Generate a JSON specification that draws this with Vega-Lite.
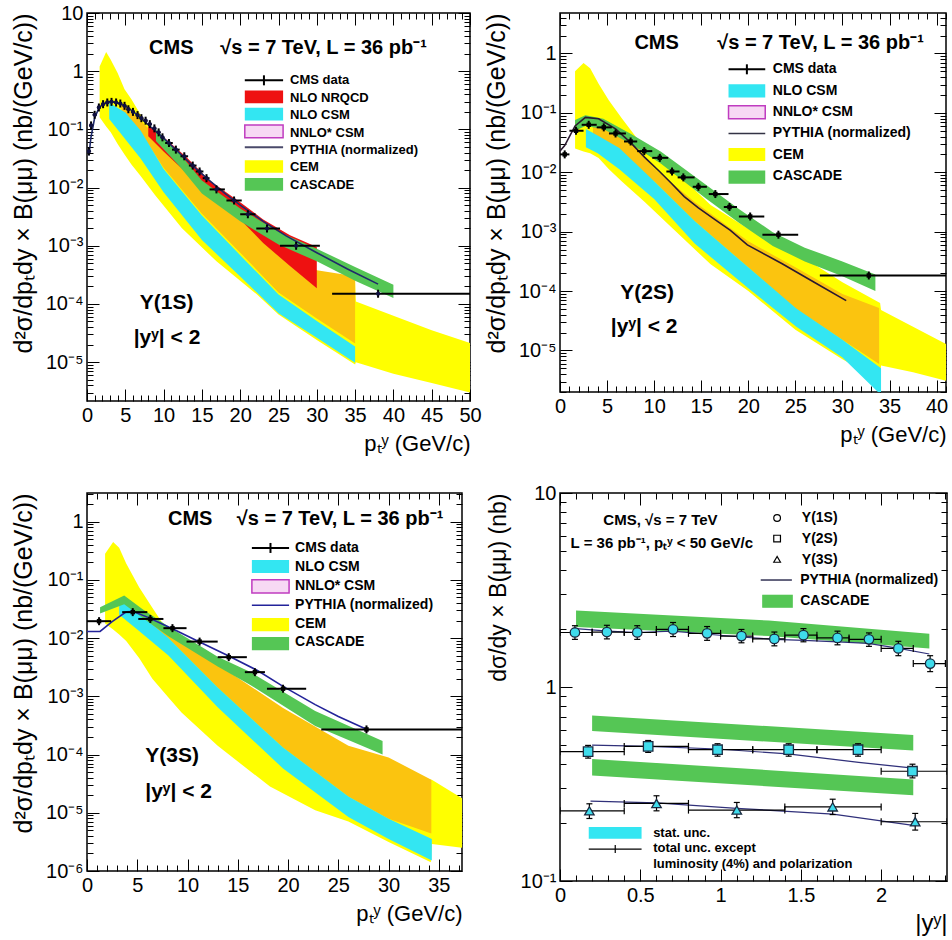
{
"$schema":"https://vega.github.io/schema/vega-lite/v6.json",
"background":"white",
"padding":{"left":10,"top":2,"right":0,"bottom":0},
"columns":2,
"bounds":"flush",
"spacing":{"row":92,"column":90},
"config":{
 "font":"Liberation Sans",
 "view":{"stroke":"#000000","strokeWidth":1.5},
 "axis":{"grid":false,"domain":false,"tickColor":"#000000","tickWidth":1,"labelColor":"#000000","titleColor":"#000000","labelFont":"Liberation Sans","titleFont":"Liberation Sans","titleFontWeight":"normal","labelFontWeight":"normal"},
 "text":{"font":"Liberation Sans","fontWeight":"bold","color":"#000000"}
},
"datasets":{
"bands":[
{"p":1,"s":"CEM","x":1.65,"lo":0.162,"hi":1.2},{"p":1,"s":"CEM","x":2.5,"lo":0.112,"hi":2.14},{"p":1,"s":"CEM","x":3.1,"lo":0.089,"hi":1.58},{"p":1,"s":"CEM","x":4.0,"lo":0.056,"hi":0.93},{"p":1,"s":"CEM","x":4.9,"lo":0.037,"hi":0.49},{"p":1,"s":"CEM","x":5.8,"lo":0.025,"hi":0.33},{"p":1,"s":"CEM","x":7,"lo":0.0158,"hi":0.178},{"p":1,"s":"CEM","x":8.9,"lo":0.0074,"hi":0.0794},{"p":1,"s":"CEM","x":12.4,"lo":0.002,"hi":0.0251},{"p":1,"s":"CEM","x":16.9,"lo":5.4e-4,"hi":0.0063},{"p":1,"s":"CEM","x":22.2,"lo":1.45e-4,"hi":0.00158},{"p":1,"s":"CEM","x":25,"lo":6.6e-5,"hi":8.9e-4},{"p":1,"s":"CEM","x":30,"lo":2.4e-5,"hi":3.55e-4},{"p":1,"s":"CEM","x":35,"lo":9.1e-6,"hi":2.5e-4},{"p":1,"s":"CEM","x":35.1,"lo":1.0e-5,"hi":1.1e-4},{"p":1,"s":"CEM","x":40,"lo":6.3e-6,"hi":6.3e-5},{"p":1,"s":"CEM","x":45,"lo":4.4e-6,"hi":3.55e-5},{"p":1,"s":"CEM","x":50,"lo":3.0e-6,"hi":2.14e-5},
{"p":1,"s":"NNLO","x":4.5,"lo":0.178,"hi":0.263},{"p":1,"s":"NNLO","x":6,"lo":0.1,"hi":0.19},{"p":1,"s":"NNLO","x":8,"lo":0.056,"hi":0.105},{"p":1,"s":"NNLO","x":10,"lo":0.0219,"hi":0.063},{"p":1,"s":"NNLO","x":15,"lo":0.00355,"hi":0.0141},{"p":1,"s":"NNLO","x":20,"lo":7.6e-4,"hi":0.00355},{"p":1,"s":"NNLO","x":25,"lo":1.58e-4,"hi":0.00112},{"p":1,"s":"NNLO","x":30,"lo":5.6e-5,"hi":3.8e-4},{"p":1,"s":"NNLO","x":35,"lo":2.1e-5,"hi":3.0e-4},
{"p":1,"s":"CSM","x":2.9,"lo":0.151,"hi":0.288},{"p":1,"s":"CSM","x":5,"lo":0.0676,"hi":0.195},{"p":1,"s":"CSM","x":7,"lo":0.0316,"hi":0.0955},{"p":1,"s":"CSM","x":10,"lo":0.0083,"hi":0.0209},{"p":1,"s":"CSM","x":15,"lo":0.00126,"hi":0.00331},{"p":1,"s":"CSM","x":20,"lo":2.95e-4,"hi":6.9e-4},{"p":1,"s":"CSM","x":25,"lo":6.9e-5,"hi":1.45e-4},{"p":1,"s":"CSM","x":30,"lo":2.63e-5,"hi":5.1e-5},{"p":1,"s":"CSM","x":35,"lo":9.8e-6,"hi":1.86e-5},
{"p":1,"s":"NRQCD","x":8,"lo":0.0759,"hi":0.117},{"p":1,"s":"NRQCD","x":10,"lo":0.0417,"hi":0.0741},{"p":1,"s":"NRQCD","x":13,"lo":0.0178,"hi":0.0331},{"p":1,"s":"NRQCD","x":16,"lo":0.00776,"hi":0.0132},{"p":1,"s":"NRQCD","x":20,"lo":0.00282,"hi":0.00562},{"p":1,"s":"NRQCD","x":23,"lo":0.00112,"hi":0.00282},{"p":1,"s":"NRQCD","x":26.5,"lo":4.47e-4,"hi":0.00151},{"p":1,"s":"NRQCD","x":30,"lo":1.86e-4,"hi":9.5e-4},
{"p":1,"s":"CASCADE","x":9,"lo":0.0631,"hi":0.1},{"p":1,"s":"CASCADE","x":12,"lo":0.024,"hi":0.0398},{"p":1,"s":"CASCADE","x":15,"lo":0.00794,"hi":0.0132},{"p":1,"s":"CASCADE","x":20,"lo":0.00263,"hi":0.00437},{"p":1,"s":"CASCADE","x":25,"lo":0.00105,"hi":0.00174},{"p":1,"s":"CASCADE","x":30,"lo":5.4e-4,"hi":8.9e-4},{"p":1,"s":"CASCADE","x":35,"lo":2.5e-4,"hi":4.3e-4},{"p":1,"s":"CASCADE","x":40,"lo":1.26e-4,"hi":2.14e-4},
{"p":2,"s":"CEM","x":1.6,"lo":0.0251,"hi":0.501},{"p":2,"s":"CEM","x":2.5,"lo":0.0224,"hi":0.69},{"p":2,"s":"CEM","x":3.2,"lo":0.0209,"hi":0.562},{"p":2,"s":"CEM","x":4.1,"lo":0.0174,"hi":0.309},{"p":2,"s":"CEM","x":5.2,"lo":0.0112,"hi":0.162},{"p":2,"s":"CEM","x":6.6,"lo":0.00692,"hi":0.0794},{"p":2,"s":"CEM","x":9,"lo":0.00316,"hi":0.0251},{"p":2,"s":"CEM","x":12,"lo":0.00112,"hi":0.0112},{"p":2,"s":"CEM","x":16,"lo":2.82e-4,"hi":0.00282},{"p":2,"s":"CEM","x":20,"lo":1e-4,"hi":0.00112},{"p":2,"s":"CEM","x":25,"lo":2.24e-5,"hi":4.47e-4},{"p":2,"s":"CEM","x":30,"lo":7.1e-6,"hi":1.41e-4},{"p":2,"s":"CEM","x":34,"lo":3.16e-6,"hi":6.3e-5},{"p":2,"s":"CEM","x":34.1,"lo":5.6e-6,"hi":4.8e-5},{"p":2,"s":"CEM","x":37.5,"lo":4.3e-6,"hi":2.5e-5},{"p":2,"s":"CEM","x":41,"lo":3.1e-6,"hi":1.29e-5},
{"p":2,"s":"NNLO","x":3.5,"lo":0.0398,"hi":0.0759},{"p":2,"s":"NNLO","x":5,"lo":0.0251,"hi":0.0631},{"p":2,"s":"NNLO","x":7.2,"lo":0.0126,"hi":0.038},{"p":2,"s":"NNLO","x":10,"lo":0.00708,"hi":0.0117},{"p":2,"s":"NNLO","x":14.3,"lo":0.00151,"hi":0.00316},{"p":2,"s":"NNLO","x":20,"lo":2.51e-4,"hi":6.9e-4},{"p":2,"s":"NNLO","x":25,"lo":5.1e-5,"hi":2.51e-4},{"p":2,"s":"NNLO","x":30,"lo":1.51e-5,"hi":8.9e-5},{"p":2,"s":"NNLO","x":33.9,"lo":5.9e-6,"hi":5.2e-5},
{"p":2,"s":"CSM","x":2.75,"lo":0.0263,"hi":0.0537},{"p":2,"s":"CSM","x":4,"lo":0.0209,"hi":0.0417},{"p":2,"s":"CSM","x":6.3,"lo":0.0112,"hi":0.0257},{"p":2,"s":"CSM","x":10,"lo":0.00355,"hi":0.00708},{"p":2,"s":"CSM","x":14.3,"lo":6.3e-4,"hi":0.00151},{"p":2,"s":"CSM","x":20,"lo":1.12e-4,"hi":2.51e-4},{"p":2,"s":"CSM","x":25.1,"lo":2.51e-5,"hi":5.1e-5},{"p":2,"s":"CSM","x":30,"lo":7.6e-6,"hi":1.51e-5},{"p":2,"s":"CSM","x":34.1,"lo":1.78e-6,"hi":5.0e-6},
{"p":2,"s":"CASCADE","x":1.6,"lo":0.0501,"hi":0.0759},{"p":2,"s":"CASCADE","x":2.7,"lo":0.0603,"hi":0.0912},{"p":2,"s":"CASCADE","x":4.6,"lo":0.0537,"hi":0.0794},{"p":2,"s":"CASCADE","x":7.5,"lo":0.0302,"hi":0.0447},{"p":2,"s":"CASCADE","x":10.7,"lo":0.0141,"hi":0.0224},{"p":2,"s":"CASCADE","x":15.5,"lo":0.00363,"hi":0.00617},{"p":2,"s":"CASCADE","x":19,"lo":0.00141,"hi":0.0024},{"p":2,"s":"CASCADE","x":22.6,"lo":5.75e-4,"hi":9.8e-4},{"p":2,"s":"CASCADE","x":26,"lo":3.16e-4,"hi":5.37e-4},{"p":2,"s":"CASCADE","x":30,"lo":1.78e-4,"hi":3.16e-4},{"p":2,"s":"CASCADE","x":33.5,"lo":1.0e-4,"hi":1.9e-4},
{"p":3,"s":"CEM","x":1.8,"lo":0.0178,"hi":0.282},{"p":3,"s":"CEM","x":2.6,"lo":0.0141,"hi":0.447},{"p":3,"s":"CEM","x":3.2,"lo":0.0115,"hi":0.355},{"p":3,"s":"CEM","x":3.9,"lo":0.0089,"hi":0.19},{"p":3,"s":"CEM","x":5.2,"lo":0.0045,"hi":0.0741},{"p":3,"s":"CEM","x":6.5,"lo":0.002,"hi":0.0331},{"p":3,"s":"CEM","x":8.1,"lo":9.5e-4,"hi":0.0126},{"p":3,"s":"CEM","x":9.4,"lo":5.25e-4,"hi":0.0085},{"p":3,"s":"CEM","x":13,"lo":1.41e-4,"hi":0.00282},{"p":3,"s":"CEM","x":18.2,"lo":2.82e-5,"hi":6.3e-4},{"p":3,"s":"CEM","x":22.7,"lo":1.1e-5,"hi":2.24e-4},{"p":3,"s":"CEM","x":26,"lo":7.1e-6,"hi":1.12e-4},{"p":3,"s":"CEM","x":30,"lo":3.16e-6,"hi":6.3e-5},{"p":3,"s":"CEM","x":34.2,"lo":1.41e-6,"hi":3.7e-5},{"p":3,"s":"CEM","x":34.3,"lo":2.9e-6,"hi":3.7e-5},{"p":3,"s":"CEM","x":37.3,"lo":2.5e-6,"hi":1.78e-5},
{"p":3,"s":"NNLO","x":4.2,"lo":0.0316,"hi":0.0398},{"p":3,"s":"NNLO","x":6,"lo":0.0166,"hi":0.0251},{"p":3,"s":"NNLO","x":8.1,"lo":0.01,"hi":0.0126},{"p":3,"s":"NNLO","x":13,"lo":0.00141,"hi":0.00355},{"p":3,"s":"NNLO","x":19.5,"lo":1.32e-4,"hi":6.3e-4},{"p":3,"s":"NNLO","x":26,"lo":1.91e-5,"hi":1.41e-4},{"p":3,"s":"NNLO","x":30,"lo":7.9e-6,"hi":8.9e-5},{"p":3,"s":"NNLO","x":34.25,"lo":4.4e-6,"hi":3.7e-5},
{"p":3,"s":"CSM","x":3.2,"lo":0.0251,"hi":0.0468},{"p":3,"s":"CSM","x":5,"lo":0.0141,"hi":0.0282},{"p":3,"s":"CSM","x":8.1,"lo":0.00501,"hi":0.01},{"p":3,"s":"CSM","x":13,"lo":6.5e-4,"hi":0.00141},{"p":3,"s":"CSM","x":19.5,"lo":5.75e-5,"hi":1.32e-4},{"p":3,"s":"CSM","x":26,"lo":8.5e-6,"hi":1.91e-5},{"p":3,"s":"CSM","x":30,"lo":3.55e-6,"hi":7.9e-6},{"p":3,"s":"CSM","x":34.3,"lo":1.51e-6,"hi":3.55e-6},
{"p":3,"s":"CASCADE","x":1.3,"lo":0.0263,"hi":0.0339},{"p":3,"s":"CASCADE","x":3.7,"lo":0.038,"hi":0.0537},{"p":3,"s":"CASCADE","x":5.5,"lo":0.0224,"hi":0.0316},{"p":3,"s":"CASCADE","x":8.1,"lo":0.0107,"hi":0.0158},{"p":3,"s":"CASCADE","x":13,"lo":0.00324,"hi":0.00479},{"p":3,"s":"CASCADE","x":16.2,"lo":0.00158,"hi":0.00263},{"p":3,"s":"CASCADE","x":22.7,"lo":3.1e-4,"hi":5.6e-4},{"p":3,"s":"CASCADE","x":29.4,"lo":1e-4,"hi":1.7e-4},
{"p":4,"s":"1S","x":0.1,"lo":2.04,"hi":2.48},{"p":4,"s":"1S","x":1.3,"lo":1.83,"hi":2.2},{"p":4,"s":"1S","x":2.3,"lo":1.58,"hi":1.88},
{"p":4,"s":"2S","x":0.2,"lo":0.594,"hi":0.714},{"p":4,"s":"2S","x":2.2,"lo":0.47,"hi":0.565},
{"p":4,"s":"3S","x":0.2,"lo":0.35,"hi":0.426},{"p":4,"s":"3S","x":2.2,"lo":0.277,"hi":0.334}
],
"lines":[
{"p":1,"s":"PY","x":0.25,"v":0.0355},{"p":1,"s":"PY","x":0.5,"v":0.0708},{"p":1,"s":"PY","x":1.0,"v":0.158},{"p":1,"s":"PY","x":1.5,"v":0.224},{"p":1,"s":"PY","x":2,"v":0.269},{"p":1,"s":"PY","x":3,"v":0.302},{"p":1,"s":"PY","x":4,"v":0.288},{"p":1,"s":"PY","x":5,"v":0.251},{"p":1,"s":"PY","x":6,"v":0.204},{"p":1,"s":"PY","x":7,"v":0.158},{"p":1,"s":"PY","x":8,"v":0.12},{"p":1,"s":"PY","x":10,"v":0.0708},{"p":1,"s":"PY","x":12,"v":0.0398},{"p":1,"s":"PY","x":14,"v":0.0224},{"p":1,"s":"PY","x":16,"v":0.0132},{"p":1,"s":"PY","x":18,"v":0.00794},{"p":1,"s":"PY","x":20,"v":0.00501},{"p":1,"s":"PY","x":23,"v":0.00263},{"p":1,"s":"PY","x":26,"v":0.00148},{"p":1,"s":"PY","x":30,"v":7.6e-4},{"p":1,"s":"PY","x":34,"v":3.98e-4},{"p":1,"s":"PY","x":38,"v":2.19e-4},
{"p":2,"s":"PY","x":0,"v":0.0229},{"p":2,"s":"PY","x":0.5,"v":0.0282},{"p":2,"s":"PY","x":1.6,"v":0.0603},{"p":2,"s":"PY","x":2.7,"v":0.0841},{"p":2,"s":"PY","x":4.1,"v":0.0794},{"p":2,"s":"PY","x":5.9,"v":0.0537},{"p":2,"s":"PY","x":7.5,"v":0.0316},{"p":2,"s":"PY","x":9,"v":0.0178},{"p":2,"s":"PY","x":10.6,"v":0.0102},{"p":2,"s":"PY","x":11.8,"v":0.0066},{"p":2,"s":"PY","x":13.2,"v":0.0039},{"p":2,"s":"PY","x":14.7,"v":0.00251},{"p":2,"s":"PY","x":16.5,"v":0.00158},{"p":2,"s":"PY","x":18.1,"v":0.00105},{"p":2,"s":"PY","x":19.9,"v":6.0e-4},{"p":2,"s":"PY","x":23.6,"v":2.88e-4},{"p":2,"s":"PY","x":27,"v":1.41e-4},{"p":2,"s":"PY","x":30.4,"v":6.9e-5},
{"p":3,"s":"PY","x":0,"v":0.013},{"p":3,"s":"PY","x":1.3,"v":0.013},{"p":3,"s":"PY","x":2.5,"v":0.0191},{"p":3,"s":"PY","x":3.9,"v":0.0282},{"p":3,"s":"PY","x":4.6,"v":0.0285},{"p":3,"s":"PY","x":6,"v":0.0229},{"p":3,"s":"PY","x":8.5,"v":0.0145},{"p":3,"s":"PY","x":11,"v":0.0089},{"p":3,"s":"PY","x":14,"v":0.00501},{"p":3,"s":"PY","x":17,"v":0.00275},{"p":3,"s":"PY","x":19.5,"v":0.00148},{"p":3,"s":"PY","x":22.7,"v":7.2e-4},{"p":3,"s":"PY","x":25,"v":4.5e-4},{"p":3,"s":"PY","x":27.8,"v":2.72e-4},
{"p":4,"s":"1S","x":0.1,"v":2.0},{"p":4,"s":"1S","x":0.3,"v":1.94},{"p":4,"s":"1S","x":0.48,"v":1.91},{"p":4,"s":"1S","x":0.7,"v":1.94},{"p":4,"s":"1S","x":0.92,"v":1.87},{"p":4,"s":"1S","x":1.13,"v":1.81},{"p":4,"s":"1S","x":1.33,"v":1.76},{"p":4,"s":"1S","x":1.52,"v":1.74},{"p":4,"s":"1S","x":1.73,"v":1.71},{"p":4,"s":"1S","x":1.92,"v":1.68},{"p":4,"s":"1S","x":2.11,"v":1.58},{"p":4,"s":"1S","x":2.3,"v":1.48},
{"p":4,"s":"2S","x":0.2,"v":0.502},{"p":4,"s":"2S","x":0.55,"v":0.494},{"p":4,"s":"2S","x":0.98,"v":0.479},{"p":4,"s":"2S","x":1.42,"v":0.452},{"p":4,"s":"2S","x":1.86,"v":0.409},{"p":4,"s":"2S","x":2.2,"v":0.382},
{"p":4,"s":"3S","x":0.19,"v":0.258},{"p":4,"s":"3S","x":0.6,"v":0.253},{"p":4,"s":"3S","x":1.1,"v":0.237},{"p":4,"s":"3S","x":1.7,"v":0.221},{"p":4,"s":"3S","x":2.21,"v":0.193}
],
"pts":[
{"p":1,"x":0.25,"v":0.042,"xlo":0,"xhi":0.5},{"p":1,"x":0.53,"v":0.117,"xlo":0.3,"xhi":0.8},{"p":1,"x":1.0,"v":0.178,"xlo":0.75,"xhi":1.25},{"p":1,"x":1.55,"v":0.238,"xlo":1.3,"xhi":1.8},{"p":1,"x":2.1,"v":0.271,"xlo":1.85,"xhi":2.35},{"p":1,"x":2.65,"v":0.29,"xlo":2.4,"xhi":2.9},{"p":1,"x":3.2,"v":0.297,"xlo":2.95,"xhi":3.45},{"p":1,"x":3.8,"v":0.29,"xlo":3.55,"xhi":4.05},{"p":1,"x":4.35,"v":0.278,"xlo":4.1,"xhi":4.6},{"p":1,"x":4.9,"v":0.254,"xlo":4.65,"xhi":5.15},{"p":1,"x":5.4,"v":0.222,"xlo":5.15,"xhi":5.65},{"p":1,"x":6.0,"v":0.2,"xlo":5.75,"xhi":6.25},{"p":1,"x":6.6,"v":0.176,"xlo":6.35,"xhi":6.85},{"p":1,"x":7.1,"v":0.156,"xlo":6.85,"xhi":7.35},{"p":1,"x":7.65,"v":0.141,"xlo":7.4,"xhi":7.9},{"p":1,"x":8.2,"v":0.123,"xlo":7.95,"xhi":8.45},{"p":1,"x":8.8,"v":0.104,"xlo":8.55,"xhi":9.05},{"p":1,"x":9.35,"v":0.0889,"xlo":9.1,"xhi":9.6},{"p":1,"x":9.85,"v":0.073,"xlo":9.6,"xhi":10.1},{"p":1,"x":10.7,"v":0.0583,"xlo":10.2,"xhi":11.2},{"p":1,"x":11.6,"v":0.0449,"xlo":11.1,"xhi":12.1},{"p":1,"x":12.7,"v":0.0345,"xlo":12.2,"xhi":13.2},{"p":1,"x":13.8,"v":0.0239,"xlo":13.3,"xhi":14.3},{"p":1,"x":14.7,"v":0.0189,"xlo":14.2,"xhi":15.2},{"p":1,"x":15.6,"v":0.0145,"xlo":15.1,"xhi":16},{"p":1,"x":16.9,"v":0.0093,"xlo":16,"xhi":18},{"p":1,"x":19.2,"v":0.006,"xlo":18.2,"xhi":20.2},{"p":1,"x":21,"v":0.00348,"xlo":20,"xhi":22},{"p":1,"x":23.5,"v":0.00198,"xlo":22.1,"xhi":25.2},{"p":1,"x":27.3,"v":0.001,"xlo":25.2,"xhi":30.4},{"p":1,"x":38,"v":0.00015,"xlo":32,"xhi":50},
{"p":2,"x":0.5,"v":0.02,"xlo":0,"xhi":1},{"p":2,"x":1.7,"v":0.05,"xlo":1,"xhi":2.5},{"p":2,"x":3.05,"v":0.063,"xlo":2.3,"xhi":3.9},{"p":2,"x":4.65,"v":0.057,"xlo":3.9,"xhi":5.5},{"p":2,"x":5.9,"v":0.045,"xlo":5.2,"xhi":7},{"p":2,"x":7.5,"v":0.033,"xlo":6.8,"xhi":8.2},{"p":2,"x":8.95,"v":0.0227,"xlo":8.2,"xhi":9.8},{"p":2,"x":10.6,"v":0.0175,"xlo":9.8,"xhi":11.5},{"p":2,"x":11.9,"v":0.0103,"xlo":11.3,"xhi":12.7},{"p":2,"x":13.1,"v":0.0082,"xlo":12.5,"xhi":14.3},{"p":2,"x":14.7,"v":0.0057,"xlo":14.1,"xhi":15.6},{"p":2,"x":16.5,"v":0.0043,"xlo":15.8,"xhi":17.9},{"p":2,"x":18,"v":0.0026,"xlo":17.4,"xhi":18.8},{"p":2,"x":20.2,"v":0.0018,"xlo":19,"xhi":21.7},{"p":2,"x":23.2,"v":0.00089,"xlo":21.5,"xhi":25.3},{"p":2,"x":32.8,"v":0.000183,"xlo":27.6,"xhi":50},
{"p":3,"x":1.2,"v":0.0195,"xlo":0,"xhi":2.4},{"p":3,"x":4.55,"v":0.0279,"xlo":3.5,"xhi":6},{"p":3,"x":6.3,"v":0.0213,"xlo":5.1,"xhi":7.6},{"p":3,"x":8.5,"v":0.0148,"xlo":7.6,"xhi":9.9},{"p":3,"x":11.2,"v":0.0087,"xlo":9.9,"xhi":13},{"p":3,"x":14.1,"v":0.0047,"xlo":13,"xhi":15.9},{"p":3,"x":16.7,"v":0.0026,"xlo":15.7,"xhi":17.7},{"p":3,"x":19.5,"v":0.00135,"xlo":17.9,"xhi":21.8},{"p":3,"x":27.8,"v":0.00027,"xlo":23.3,"xhi":50},
{"p":4,"s":"1S","x":0.093,"v":1.91,"xlo":0,"xhi":0.2,"vlo":1.76,"vhi":2.07},{"p":4,"s":"1S","x":0.292,"v":1.92,"xlo":0.2,"xhi":0.4,"vlo":1.77,"vhi":2.08},{"p":4,"s":"1S","x":0.481,"v":1.91,"xlo":0.4,"xhi":0.6,"vlo":1.76,"vhi":2.07},{"p":4,"s":"1S","x":0.704,"v":1.98,"xlo":0.6,"xhi":0.8,"vlo":1.82,"vhi":2.15},{"p":4,"s":"1S","x":0.916,"v":1.89,"xlo":0.8,"xhi":1.0,"vlo":1.74,"vhi":2.05},{"p":4,"s":"1S","x":1.13,"v":1.83,"xlo":1.0,"xhi":1.2,"vlo":1.69,"vhi":1.98},{"p":4,"s":"1S","x":1.335,"v":1.77,"xlo":1.2,"xhi":1.4,"vlo":1.63,"vhi":1.92},{"p":4,"s":"1S","x":1.516,"v":1.85,"xlo":1.4,"xhi":1.6,"vlo":1.71,"vhi":2.0},{"p":4,"s":"1S","x":1.728,"v":1.79,"xlo":1.6,"xhi":1.8,"vlo":1.65,"vhi":1.94},{"p":4,"s":"1S","x":1.924,"v":1.76,"xlo":1.8,"xhi":2.0,"vlo":1.62,"vhi":1.9},{"p":4,"s":"1S","x":2.107,"v":1.58,"xlo":2.0,"xhi":2.2,"vlo":1.45,"vhi":1.72},{"p":4,"s":"1S","x":2.305,"v":1.32,"xlo":2.2,"xhi":2.4,"vlo":1.2,"vhi":1.45},
{"p":4,"s":"2S","x":0.175,"v":0.464,"xlo":0,"xhi":0.4,"vlo":0.43,"vhi":0.5},{"p":4,"s":"2S","x":0.549,"v":0.494,"xlo":0.4,"xhi":0.8,"vlo":0.46,"vhi":0.53},{"p":4,"s":"2S","x":0.981,"v":0.475,"xlo":0.8,"xhi":1.2,"vlo":0.44,"vhi":0.51},{"p":4,"s":"2S","x":1.424,"v":0.475,"xlo":1.2,"xhi":1.6,"vlo":0.44,"vhi":0.51},{"p":4,"s":"2S","x":1.856,"v":0.475,"xlo":1.6,"xhi":2.0,"vlo":0.44,"vhi":0.51},{"p":4,"s":"2S","x":2.195,"v":0.368,"xlo":2.0,"xhi":2.41,"vlo":0.34,"vhi":0.4},
{"p":4,"s":"3S","x":0.183,"v":0.23,"xlo":0,"xhi":0.4,"vlo":0.21,"vhi":0.25},{"p":4,"s":"3S","x":0.601,"v":0.251,"xlo":0.4,"xhi":0.8,"vlo":0.23,"vhi":0.275},{"p":4,"s":"3S","x":1.101,"v":0.232,"xlo":0.8,"xhi":1.4,"vlo":0.212,"vhi":0.254},{"p":4,"s":"3S","x":1.698,"v":0.241,"xlo":1.4,"xhi":2.0,"vlo":0.22,"vhi":0.264},{"p":4,"s":"3S","x":2.212,"v":0.202,"xlo":2.0,"xhi":2.41,"vlo":0.183,"vhi":0.223}
]
},
"concat":[
{
"width":383,"height":388,
"resolve":{"axis":{"x":"independent","y":"independent"}},
"layer":[
{"data":{"name":"bands"},"transform":[{"filter":"datum.p==1 && datum.s=='CEM'"}],"mark":{"type":"area","color":"#ffff00","opacity":1,"clip":true},
 "encoding":{
  "x":{"field":"x","type":"quantitative","scale":{"domain":[0,50],"nice":false,"zero":false},
   "axis":{"orient":"bottom","tickCount":50,"tickSize":{"condition":{"test":"datum.value % 5 === 0","value":-12},"value":-6},"labelExpr":"datum.value % 5 === 0 ? datum.label : ''","labelFontSize":20,"labelPadding":16,"labelOverlap":false,"labelFlush":false,"labelBound":false,"title":"pₜʸ (GeV/c)","titleFontSize":22,"titleAnchor":"end","titlePadding":2}},
  "y":{"field":"lo","type":"quantitative","scale":{"type":"log","domain":[2.15e-6,10],"nice":false},
   "axis":{"orient":"left","tickCount":20,"tickSize":{"condition":{"test":"abs(log(datum.value)/LN10 - round(log(datum.value)/LN10)) < 0.001","value":-12},"value":-6},"labelExpr":"abs(log(datum.value)/LN10 - round(log(datum.value)/LN10)) < 0.001 ? (datum.value > 5 ? '10' : datum.value > 0.5 ? '1' : '10' + ['','⁻¹','⁻²','⁻³','⁻⁴','⁻⁵','⁻⁶'][round(-log(datum.value)/LN10)]) : ''","labelFontSize":20,"labelPadding":16,"labelOverlap":false,"labelFlush":false,"labelBound":false,"title":"d²σ/dpₜdy × B(μμ)   (nb/(GeV/c))","titleFontSize":25,"titleAnchor":"end","titlePadding":9}},
  "y2":{"field":"hi"}}},
{"data":{"name":"bands"},"transform":[{"filter":"datum.p==1 && datum.s=='NNLO'"}],"mark":{"type":"area","color":"#fbc40f","opacity":1,"clip":true},"encoding":{"x":{"field":"x","type":"quantitative","axis":null},"y":{"field":"lo","type":"quantitative","axis":null},"y2":{"field":"hi"}}},
{"data":{"name":"bands"},"transform":[{"filter":"datum.p==1 && datum.s=='CSM'"}],"mark":{"type":"area","color":"#33e6f2","opacity":1,"clip":true},"encoding":{"x":{"field":"x","type":"quantitative","axis":null},"y":{"field":"lo","type":"quantitative","axis":null},"y2":{"field":"hi"}}},
{"data":{"name":"bands"},"transform":[{"filter":"datum.p==1 && datum.s=='NRQCD'"}],"mark":{"type":"area","color":"#ee1111","opacity":1,"clip":true},"encoding":{"x":{"field":"x","type":"quantitative","axis":null},"y":{"field":"lo","type":"quantitative","axis":null},"y2":{"field":"hi"}}},
{"data":{"name":"bands"},"transform":[{"filter":"datum.p==1 && datum.s=='CASCADE'"}],"mark":{"type":"area","color":"#55c655","opacity":1,"clip":true},"encoding":{"x":{"field":"x","type":"quantitative","axis":null},"y":{"field":"lo","type":"quantitative","axis":null},"y2":{"field":"hi"}}},
{"data":{"name":"lines"},"transform":[{"filter":"datum.p==1"}],"mark":{"type":"line","color":"#1f2a6b","strokeWidth":1.6,"clip":true},
 "encoding":{"x":{"field":"x","type":"quantitative","axis":{"orient":"top","tickCount":50,"tickSize":{"condition":{"test":"datum.value % 5 === 0","value":-12},"value":-6},"labels":false,"title":null}},
  "y":{"field":"v","type":"quantitative","axis":{"orient":"right","tickCount":20,"tickSize":{"condition":{"test":"abs(log(datum.value)/LN10 - round(log(datum.value)/LN10)) < 0.001","value":-12},"value":-6},"labels":false,"title":null}}}},
{"data":{"name":"pts"},"transform":[{"filter":"datum.p==1"}],"mark":{"type":"rule","color":"#000000","strokeWidth":2,"clip":true},"encoding":{"x":{"field":"xlo","type":"quantitative","axis":null},"x2":{"field":"xhi"},"y":{"field":"v","type":"quantitative","axis":null}}},
{"data":{"name":"pts"},"transform":[{"filter":"datum.p==1"}],"mark":{"type":"tick","orient":"vertical","color":"#000000","size":8,"thickness":2,"opacity":1,"clip":true},"encoding":{"x":{"field":"x","type":"quantitative","axis":null},"y":{"field":"v","type":"quantitative","axis":null}}},
{"data":{"name":"pts"},"transform":[{"filter":"datum.p==1"}],"mark":{"type":"circle","color":"#101040","size":18,"opacity":1,"clip":true},"encoding":{"x":{"field":"x","type":"quantitative","axis":null},"y":{"field":"v","type":"quantitative","axis":null}}},
{"data":{"values":[{}]},"mark":{"type":"rule","color":"#000000","strokeWidth":2},"encoding":{"x":{"datum":20.6,"type":"quantitative","axis":null},"x2":{"datum":25.6},"y":{"datum":0.697,"type":"quantitative","axis":null}}},
{"data":{"values":[{}]},"mark":{"type":"tick","orient":"vertical","color":"#000000","size":10,"thickness":2,"opacity":1},"encoding":{"x":{"datum":23.1,"type":"quantitative","axis":null},"y":{"datum":0.697,"type":"quantitative","axis":null}}},
{"data":{"values":[{}]},"mark":{"type":"rect","color":"#ee1111","opacity":1},"encoding":{"x":{"datum":20.6,"type":"quantitative","axis":null},"x2":{"datum":25.6},"y":{"datum":0.282,"type":"quantitative","axis":null},"y2":{"datum":0.468}}},
{"data":{"values":[{}]},"mark":{"type":"rect","color":"#33e6f2","opacity":1},"encoding":{"x":{"datum":20.6,"type":"quantitative","axis":null},"x2":{"datum":25.6},"y":{"datum":0.142,"type":"quantitative","axis":null},"y2":{"datum":0.236}}},
{"data":{"values":[{}]},"mark":{"type":"rect","fill":"#f7d9f4","stroke":"#c03cc0","strokeWidth":1.5,"opacity":1},"encoding":{"x":{"datum":20.6,"type":"quantitative","axis":null},"x2":{"datum":25.6},"y":{"datum":0.0718,"type":"quantitative","axis":null},"y2":{"datum":0.119}}},
{"data":{"values":[{}]},"mark":{"type":"rule","color":"#4a4a6a","strokeWidth":2},"encoding":{"x":{"datum":20.6,"type":"quantitative","axis":null},"x2":{"datum":25.6},"y":{"datum":0.0492,"type":"quantitative","axis":null}}},
{"data":{"values":[{}]},"mark":{"type":"rect","color":"#ffff00","opacity":1},"encoding":{"x":{"datum":20.6,"type":"quantitative","axis":null},"x2":{"datum":25.6},"y":{"datum":0.0179,"type":"quantitative","axis":null},"y2":{"datum":0.0296}}},
{"data":{"values":[{}]},"mark":{"type":"rect","color":"#55c655","opacity":1},"encoding":{"x":{"datum":20.6,"type":"quantitative","axis":null},"x2":{"datum":25.6},"y":{"datum":0.00879,"type":"quantitative","axis":null},"y2":{"datum":0.0146}}},
{"data":{"values":[{}]},"mark":{"type":"text","text":["CMS data","NLO NRQCD","NLO CSM","NNLO* CSM","PYTHIA (normalized)","CEM","CASCADE"],"align":"left","baseline":"middle","fontSize":13,"lineHeight":17.4},"encoding":{"x":{"datum":26.5,"type":"quantitative","axis":null},"y":{"datum":0.697,"type":"quantitative","axis":null}}},
{"data":{"values":[{}]},"mark":{"type":"text","text":"CMS","align":"left","baseline":"middle","fontSize":20},"encoding":{"x":{"datum":8.1,"type":"quantitative","axis":null},"y":{"datum":2.51,"type":"quantitative","axis":null}}},
{"data":{"values":[{}]},"mark":{"type":"text","text":"√s = 7 TeV, L = 36 pb⁻¹","align":"left","baseline":"middle","fontSize":20},"encoding":{"x":{"datum":17.4,"type":"quantitative","axis":null},"y":{"datum":2.51,"type":"quantitative","axis":null}}},
{"data":{"values":[{}]},"mark":{"type":"text","text":"Υ(1S)","align":"left","baseline":"middle","fontSize":21},"encoding":{"x":{"datum":6.9,"type":"quantitative","axis":null},"y":{"datum":1.02e-4,"type":"quantitative","axis":null}}},
{"data":{"values":[{}]},"mark":{"type":"text","text":"|yʸ| < 2","align":"left","baseline":"middle","fontSize":21},"encoding":{"x":{"datum":6.1,"type":"quantitative","axis":null},"y":{"datum":2.57e-5,"type":"quantitative","axis":null}}}
]
},
{
"width":386,"height":379,
"resolve":{"axis":{"x":"independent","y":"independent"}},
"layer":[
{"data":{"name":"bands"},"transform":[{"filter":"datum.p==2 && datum.s=='CEM'"}],"mark":{"type":"area","color":"#ffff00","opacity":1,"clip":true},
 "encoding":{
  "x":{"field":"x","type":"quantitative","scale":{"domain":[0,41],"nice":false,"zero":false},
   "axis":{"orient":"bottom","tickCount":50,"tickSize":{"condition":{"test":"datum.value % 5 === 0","value":-12},"value":-6},"labelExpr":"datum.value % 5 === 0 ? datum.label : ''","labelFontSize":20,"labelPadding":16,"labelOverlap":false,"labelFlush":false,"labelBound":false,"title":"pₜʸ (GeV/c)","titleFontSize":22,"titleAnchor":"end","titlePadding":2}},
  "y":{"field":"lo","type":"quantitative","scale":{"type":"log","domain":[2.0e-6,4.8],"nice":false},
   "axis":{"orient":"left","tickCount":20,"tickSize":{"condition":{"test":"abs(log(datum.value)/LN10 - round(log(datum.value)/LN10)) < 0.001","value":-12},"value":-6},"labelExpr":"abs(log(datum.value)/LN10 - round(log(datum.value)/LN10)) < 0.001 ? (datum.value > 5 ? '10' : datum.value > 0.5 ? '1' : '10' + ['','⁻¹','⁻²','⁻³','⁻⁴','⁻⁵','⁻⁶'][round(-log(datum.value)/LN10)]) : ''","labelFontSize":20,"labelPadding":16,"labelOverlap":false,"labelFlush":false,"labelBound":false,"title":"d²σ/dpₜdy × B(μμ)   (nb/(GeV/c))","titleFontSize":25,"titleAnchor":"end","titlePadding":9}},
  "y2":{"field":"hi"}}},
{"data":{"name":"bands"},"transform":[{"filter":"datum.p==2 && datum.s=='NNLO'"}],"mark":{"type":"area","color":"#fbc40f","opacity":1,"clip":true},"encoding":{"x":{"field":"x","type":"quantitative","axis":null},"y":{"field":"lo","type":"quantitative","axis":null},"y2":{"field":"hi"}}},
{"data":{"name":"bands"},"transform":[{"filter":"datum.p==2 && datum.s=='CSM'"}],"mark":{"type":"area","color":"#33e6f2","opacity":1,"clip":true},"encoding":{"x":{"field":"x","type":"quantitative","axis":null},"y":{"field":"lo","type":"quantitative","axis":null},"y2":{"field":"hi"}}},
{"data":{"name":"bands"},"transform":[{"filter":"datum.p==2 && datum.s=='CASCADE'"}],"mark":{"type":"area","color":"#55c655","opacity":1,"clip":true},"encoding":{"x":{"field":"x","type":"quantitative","axis":null},"y":{"field":"lo","type":"quantitative","axis":null},"y2":{"field":"hi"}}},
{"data":{"name":"lines"},"transform":[{"filter":"datum.p==2"}],"mark":{"type":"line","color":"#2a1830","strokeWidth":1.6,"clip":true},
 "encoding":{"x":{"field":"x","type":"quantitative","axis":{"orient":"top","tickCount":50,"tickSize":{"condition":{"test":"datum.value % 5 === 0","value":-12},"value":-6},"labels":false,"title":null}},
  "y":{"field":"v","type":"quantitative","axis":{"orient":"right","tickCount":20,"tickSize":{"condition":{"test":"abs(log(datum.value)/LN10 - round(log(datum.value)/LN10)) < 0.001","value":-12},"value":-6},"labels":false,"title":null}}}},
{"data":{"name":"pts"},"transform":[{"filter":"datum.p==2"}],"mark":{"type":"rule","color":"#000000","strokeWidth":2,"clip":true},"encoding":{"x":{"field":"xlo","type":"quantitative","axis":null},"x2":{"field":"xhi"},"y":{"field":"v","type":"quantitative","axis":null}}},
{"data":{"name":"pts"},"transform":[{"filter":"datum.p==2"}],"mark":{"type":"tick","orient":"vertical","color":"#000000","size":8,"thickness":2,"opacity":1,"clip":true},"encoding":{"x":{"field":"x","type":"quantitative","axis":null},"y":{"field":"v","type":"quantitative","axis":null}}},
{"data":{"name":"pts"},"transform":[{"filter":"datum.p==2"}],"mark":{"type":"square","color":"#000000","size":20,"opacity":1,"clip":true},"encoding":{"x":{"field":"x","type":"quantitative","axis":null},"y":{"field":"v","type":"quantitative","axis":null}}},
{"data":{"values":[{}]},"mark":{"type":"rule","color":"#000000","strokeWidth":2},"encoding":{"x":{"datum":17.9,"type":"quantitative","axis":null},"x2":{"datum":21.8},"y":{"datum":0.541,"type":"quantitative","axis":null}}},
{"data":{"values":[{}]},"mark":{"type":"tick","orient":"vertical","color":"#000000","size":10,"thickness":2,"opacity":1},"encoding":{"x":{"datum":19.85,"type":"quantitative","axis":null},"y":{"datum":0.541,"type":"quantitative","axis":null}}},
{"data":{"values":[{}]},"mark":{"type":"rect","color":"#33e6f2","opacity":1},"encoding":{"x":{"datum":17.9,"type":"quantitative","axis":null},"x2":{"datum":21.8},"y":{"datum":0.181,"type":"quantitative","axis":null},"y2":{"datum":0.302}}},
{"data":{"values":[{}]},"mark":{"type":"rect","fill":"#f7d9f4","stroke":"#c03cc0","strokeWidth":1.5,"opacity":1},"encoding":{"x":{"datum":17.9,"type":"quantitative","axis":null},"x2":{"datum":21.8},"y":{"datum":0.0793,"type":"quantitative","axis":null},"y2":{"datum":0.132}}},
{"data":{"values":[{}]},"mark":{"type":"rule","color":"#333344","strokeWidth":1.5},"encoding":{"x":{"datum":17.9,"type":"quantitative","axis":null},"x2":{"datum":21.8},"y":{"datum":0.0449,"type":"quantitative","axis":null}}},
{"data":{"values":[{}]},"mark":{"type":"rect","color":"#ffff00","opacity":1},"encoding":{"x":{"datum":17.9,"type":"quantitative","axis":null},"x2":{"datum":21.8},"y":{"datum":0.0155,"type":"quantitative","axis":null},"y2":{"datum":0.0257}}},
{"data":{"values":[{}]},"mark":{"type":"rect","color":"#55c655","opacity":1},"encoding":{"x":{"datum":17.9,"type":"quantitative","axis":null},"x2":{"datum":21.8},"y":{"datum":0.00641,"type":"quantitative","axis":null},"y2":{"datum":0.0107}}},
{"data":{"values":[{}]},"mark":{"type":"text","text":["CMS data","NLO CSM","NNLO* CSM","PYTHIA (normalized)","CEM","CASCADE"],"align":"left","baseline":"middle","fontSize":14,"lineHeight":21.3},"encoding":{"x":{"datum":22.6,"type":"quantitative","axis":null},"y":{"datum":0.541,"type":"quantitative","axis":null}}},
{"data":{"values":[{}]},"mark":{"type":"text","text":"CMS","align":"left","baseline":"middle","fontSize":20},"encoding":{"x":{"datum":7.9,"type":"quantitative","axis":null},"y":{"datum":1.5,"type":"quantitative","axis":null}}},
{"data":{"values":[{}]},"mark":{"type":"text","text":"√s = 7 TeV, L = 36 pb⁻¹","align":"left","baseline":"middle","fontSize":20},"encoding":{"x":{"datum":16.7,"type":"quantitative","axis":null},"y":{"datum":1.5,"type":"quantitative","axis":null}}},
{"data":{"values":[{}]},"mark":{"type":"text","text":"Υ(2S)","align":"left","baseline":"middle","fontSize":21},"encoding":{"x":{"datum":6.4,"type":"quantitative","axis":null},"y":{"datum":9.3e-5,"type":"quantitative","axis":null}}},
{"data":{"values":[{}]},"mark":{"type":"text","text":"|yʸ| < 2","align":"left","baseline":"middle","fontSize":21},"encoding":{"x":{"datum":5.4,"type":"quantitative","axis":null},"y":{"datum":2.5e-5,"type":"quantitative","axis":null}}}
]
},
{
"width":375,"height":378,
"resolve":{"axis":{"x":"independent","y":"independent"}},
"layer":[
{"data":{"name":"bands"},"transform":[{"filter":"datum.p==3 && datum.s=='CEM'"}],"mark":{"type":"area","color":"#ffff00","opacity":1,"clip":true},
 "encoding":{
  "x":{"field":"x","type":"quantitative","scale":{"domain":[0,37.3],"nice":false,"zero":false},
   "axis":{"orient":"bottom","tickCount":50,"tickSize":{"condition":{"test":"datum.value % 5 === 0","value":-12},"value":-6},"labelExpr":"datum.value % 5 === 0 ? datum.label : ''","labelFontSize":20,"labelPadding":16,"labelOverlap":false,"labelFlush":false,"labelBound":false,"title":"pₜʸ (GeV/c)","titleFontSize":22,"titleAnchor":"end","titlePadding":2}},
  "y":{"field":"lo","type":"quantitative","scale":{"type":"log","domain":[1e-6,3.1],"nice":false},
   "axis":{"orient":"left","tickCount":20,"tickSize":{"condition":{"test":"abs(log(datum.value)/LN10 - round(log(datum.value)/LN10)) < 0.001","value":-12},"value":-6},"labelExpr":"abs(log(datum.value)/LN10 - round(log(datum.value)/LN10)) < 0.001 ? (datum.value > 5 ? '10' : datum.value > 0.5 ? '1' : '10' + ['','⁻¹','⁻²','⁻³','⁻⁴','⁻⁵','⁻⁶'][round(-log(datum.value)/LN10)]) : ''","labelFontSize":20,"labelPadding":16,"labelOverlap":false,"labelFlush":false,"labelBound":false,"title":"d²σ/dpₜdy × B(μμ)   (nb/(GeV/c))","titleFontSize":25,"titleAnchor":"end","titlePadding":9}},
  "y2":{"field":"hi"}}},
{"data":{"name":"bands"},"transform":[{"filter":"datum.p==3 && datum.s=='NNLO'"}],"mark":{"type":"area","color":"#fbc40f","opacity":1,"clip":true},"encoding":{"x":{"field":"x","type":"quantitative","axis":null},"y":{"field":"lo","type":"quantitative","axis":null},"y2":{"field":"hi"}}},
{"data":{"name":"bands"},"transform":[{"filter":"datum.p==3 && datum.s=='CSM'"}],"mark":{"type":"area","color":"#33e6f2","opacity":1,"clip":true},"encoding":{"x":{"field":"x","type":"quantitative","axis":null},"y":{"field":"lo","type":"quantitative","axis":null},"y2":{"field":"hi"}}},
{"data":{"name":"bands"},"transform":[{"filter":"datum.p==3 && datum.s=='CASCADE'"}],"mark":{"type":"area","color":"#55c655","opacity":1,"clip":true},"encoding":{"x":{"field":"x","type":"quantitative","axis":null},"y":{"field":"lo","type":"quantitative","axis":null},"y2":{"field":"hi"}}},
{"data":{"name":"lines"},"transform":[{"filter":"datum.p==3"}],"mark":{"type":"line","color":"#23239a","strokeWidth":1.6,"clip":true},
 "encoding":{"x":{"field":"x","type":"quantitative","axis":{"orient":"top","tickCount":50,"tickSize":{"condition":{"test":"datum.value % 5 === 0","value":-12},"value":-6},"labels":false,"title":null}},
  "y":{"field":"v","type":"quantitative","axis":{"orient":"right","tickCount":20,"tickSize":{"condition":{"test":"abs(log(datum.value)/LN10 - round(log(datum.value)/LN10)) < 0.001","value":-12},"value":-6},"labels":false,"title":null}}}},
{"data":{"name":"pts"},"transform":[{"filter":"datum.p==3"}],"mark":{"type":"rule","color":"#000000","strokeWidth":2,"clip":true},"encoding":{"x":{"field":"xlo","type":"quantitative","axis":null},"x2":{"field":"xhi"},"y":{"field":"v","type":"quantitative","axis":null}}},
{"data":{"name":"pts"},"transform":[{"filter":"datum.p==3"}],"mark":{"type":"tick","orient":"vertical","color":"#000000","size":8,"thickness":2,"opacity":1,"clip":true},"encoding":{"x":{"field":"x","type":"quantitative","axis":null},"y":{"field":"v","type":"quantitative","axis":null}}},
{"data":{"name":"pts"},"transform":[{"filter":"datum.p==3"}],"mark":{"type":"square","color":"#000000","size":20,"opacity":1,"clip":true},"encoding":{"x":{"field":"x","type":"quantitative","axis":null},"y":{"field":"v","type":"quantitative","axis":null}}},
{"data":{"values":[{}]},"mark":{"type":"rule","color":"#000000","strokeWidth":2},"encoding":{"x":{"datum":16.4,"type":"quantitative","axis":null},"x2":{"datum":20.1},"y":{"datum":0.353,"type":"quantitative","axis":null}}},
{"data":{"values":[{}]},"mark":{"type":"tick","orient":"vertical","color":"#000000","size":10,"thickness":2,"opacity":1},"encoding":{"x":{"datum":18.25,"type":"quantitative","axis":null},"y":{"datum":0.353,"type":"quantitative","axis":null}}},
{"data":{"values":[{}]},"mark":{"type":"rect","color":"#33e6f2","opacity":1},"encoding":{"x":{"datum":16.4,"type":"quantitative","axis":null},"x2":{"datum":20.1},"y":{"datum":0.131,"type":"quantitative","axis":null},"y2":{"datum":0.22}}},
{"data":{"values":[{}]},"mark":{"type":"rect","fill":"#f7d9f4","stroke":"#c03cc0","strokeWidth":1.5,"opacity":1},"encoding":{"x":{"datum":16.4,"type":"quantitative","axis":null},"x2":{"datum":20.1},"y":{"datum":0.0594,"type":"quantitative","axis":null},"y2":{"datum":0.1}}},
{"data":{"values":[{}]},"mark":{"type":"rule","color":"#23239a","strokeWidth":1.5},"encoding":{"x":{"datum":16.4,"type":"quantitative","axis":null},"x2":{"datum":20.1},"y":{"datum":0.0366,"type":"quantitative","axis":null}}},
{"data":{"values":[{}]},"mark":{"type":"rect","color":"#ffff00","opacity":1},"encoding":{"x":{"datum":16.4,"type":"quantitative","axis":null},"x2":{"datum":20.1},"y":{"datum":0.0131,"type":"quantitative","axis":null},"y2":{"datum":0.0221}}},
{"data":{"values":[{}]},"mark":{"type":"rect","color":"#55c655","opacity":1},"encoding":{"x":{"datum":16.4,"type":"quantitative","axis":null},"x2":{"datum":20.1},"y":{"datum":0.00615,"type":"quantitative","axis":null},"y2":{"datum":0.0104}}},
{"data":{"values":[{}]},"mark":{"type":"text","text":["CMS data","NLO CSM","NNLO* CSM","PYTHIA (normalized)","CEM","CASCADE"],"align":"left","baseline":"middle","fontSize":14,"lineHeight":18.9},"encoding":{"x":{"datum":20.7,"type":"quantitative","axis":null},"y":{"datum":0.353,"type":"quantitative","axis":null}}},
{"data":{"values":[{}]},"mark":{"type":"text","text":"CMS","align":"left","baseline":"middle","fontSize":20},"encoding":{"x":{"datum":8.05,"type":"quantitative","axis":null},"y":{"datum":1.1,"type":"quantitative","axis":null}}},
{"data":{"values":[{}]},"mark":{"type":"text","text":"√s = 7 TeV, L = 36 pb⁻¹","align":"left","baseline":"middle","fontSize":20},"encoding":{"x":{"datum":14.9,"type":"quantitative","axis":null},"y":{"datum":1.1,"type":"quantitative","axis":null}}},
{"data":{"values":[{}]},"mark":{"type":"text","text":"Υ(3S)","align":"left","baseline":"middle","fontSize":21},"encoding":{"x":{"datum":5.8,"type":"quantitative","axis":null},"y":{"datum":9.3e-5,"type":"quantitative","axis":null}}},
{"data":{"values":[{}]},"mark":{"type":"text","text":"|yʸ| < 2","align":"left","baseline":"middle","fontSize":21},"encoding":{"x":{"datum":5.8,"type":"quantitative","axis":null},"y":{"datum":2.24e-5,"type":"quantitative","axis":null}}}
]
},
{
"width":387,"height":388,
"resolve":{"axis":{"x":"independent","y":"independent"}},
"layer":[
{"data":{"name":"bands"},"transform":[{"filter":"datum.p==4"}],"mark":{"type":"area","color":"#55c655","opacity":1,"clip":true},
 "encoding":{
  "x":{"field":"x","type":"quantitative","scale":{"domain":[0,2.41],"nice":false,"zero":false},
   "axis":{"orient":"bottom","tickCount":24,"tickSize":{"condition":{"test":"abs(datum.value*2 - round(datum.value*2)) < 0.001","value":-12},"value":-6},"labelExpr":"abs(datum.value*2 - round(datum.value*2)) < 0.001 ? format(datum.value, '~g') : ''","labelFontSize":20,"labelPadding":16,"labelOverlap":false,"labelFlush":false,"labelBound":false,"title":"|yʸ|","titleFontSize":24,"titleAnchor":"end","titlePadding":0}},
  "y":{"field":"lo","type":"quantitative","scale":{"type":"log","domain":[0.1,10],"nice":false},
   "axis":{"orient":"left","tickCount":20,"tickSize":{"condition":{"test":"abs(log(datum.value)/LN10 - round(log(datum.value)/LN10)) < 0.001","value":-12},"value":-6},"labelExpr":"abs(log(datum.value)/LN10 - round(log(datum.value)/LN10)) < 0.001 ? (datum.value > 5 ? '10' : datum.value > 0.5 ? '1' : '10' + ['','⁻¹','⁻²','⁻³','⁻⁴','⁻⁵','⁻⁶'][round(-log(datum.value)/LN10)]) : ''","labelFontSize":20,"labelPadding":16,"labelOverlap":false,"labelFlush":false,"labelBound":false,"title":"dσ/dy × B(μμ) (nb)","titleFontSize":23,"titleAnchor":"end","titlePadding":10}},
  "y2":{"field":"hi"},
  "detail":{"field":"s","type":"nominal"}}},
{"data":{"name":"lines"},"transform":[{"filter":"datum.p==4"}],"mark":{"type":"line","color":"#30307a","strokeWidth":1.2,"clip":true},
 "encoding":{"x":{"field":"x","type":"quantitative","axis":{"orient":"top","tickCount":24,"tickSize":{"condition":{"test":"abs(datum.value*2 - round(datum.value*2)) < 0.001","value":-12},"value":-6},"labels":false,"title":null}},
  "y":{"field":"v","type":"quantitative","axis":{"orient":"right","tickCount":20,"tickSize":{"condition":{"test":"abs(log(datum.value)/LN10 - round(log(datum.value)/LN10)) < 0.001","value":-12},"value":-6},"labels":false,"title":null}},
  "detail":{"field":"s","type":"nominal"}}},
{"data":{"name":"pts"},"transform":[{"filter":"datum.p==4"}],"mark":{"type":"rule","color":"#000000","strokeWidth":1.2,"clip":true},"encoding":{"x":{"field":"xlo","type":"quantitative","axis":null},"x2":{"field":"xhi"},"y":{"field":"v","type":"quantitative","axis":null}}},
{"data":{"name":"pts"},"transform":[{"filter":"datum.p==4"}],"mark":{"type":"tick","orient":"vertical","color":"#000000","size":7,"thickness":1.2,"opacity":1,"clip":true},"encoding":{"x":{"field":"xlo","type":"quantitative","axis":null},"y":{"field":"v","type":"quantitative","axis":null}}},
{"data":{"name":"pts"},"transform":[{"filter":"datum.p==4"}],"mark":{"type":"tick","orient":"vertical","color":"#000000","size":7,"thickness":1.2,"opacity":1,"clip":true},"encoding":{"x":{"field":"xhi","type":"quantitative","axis":null},"y":{"field":"v","type":"quantitative","axis":null}}},
{"data":{"name":"pts"},"transform":[{"filter":"datum.p==4"}],"mark":{"type":"rule","color":"#000000","strokeWidth":1.2,"clip":true},"encoding":{"x":{"field":"x","type":"quantitative","axis":null},"y":{"field":"vlo","type":"quantitative","axis":null},"y2":{"field":"vhi"}}},
{"data":{"name":"pts"},"transform":[{"filter":"datum.p==4"}],"mark":{"type":"tick","orient":"horizontal","color":"#000000","size":6,"thickness":1.2,"opacity":1,"clip":true},"encoding":{"x":{"field":"x","type":"quantitative","axis":null},"y":{"field":"vlo","type":"quantitative","axis":null}}},
{"data":{"name":"pts"},"transform":[{"filter":"datum.p==4"}],"mark":{"type":"tick","orient":"horizontal","color":"#000000","size":6,"thickness":1.2,"opacity":1,"clip":true},"encoding":{"x":{"field":"x","type":"quantitative","axis":null},"y":{"field":"vhi","type":"quantitative","axis":null}}},
{"data":{"name":"pts"},"transform":[{"filter":"datum.p==4"}],"mark":{"type":"point","filled":true,"fill":"#3fdcec","stroke":"#1a2a40","strokeWidth":1.3,"size":90,"opacity":1,"clip":true},"encoding":{"x":{"field":"x","type":"quantitative","axis":null},"y":{"field":"v","type":"quantitative","axis":null},"shape":{"field":"s","type":"nominal","scale":{"domain":["1S","2S","3S"],"range":["circle","square","triangle-up"]},"legend":null}}},
{"data":{"values":[{}]},"mark":{"type":"text","text":"CMS, √s = 7 TeV","align":"left","baseline":"middle","fontSize":15},"encoding":{"x":{"datum":0.27,"type":"quantitative","axis":null},"y":{"datum":7.28,"type":"quantitative","axis":null}}},
{"data":{"values":[{}]},"mark":{"type":"text","text":"L = 36 pb⁻¹, pₜʸ < 50 GeV/c","align":"left","baseline":"middle","fontSize":15},"encoding":{"x":{"datum":0.066,"type":"quantitative","axis":null},"y":{"datum":5.53,"type":"quantitative","axis":null}}},
{"data":{"values":[{}]},"mark":{"type":"point","shape":"circle","filled":false,"color":"#000000","size":45,"strokeWidth":1.2,"opacity":1},"encoding":{"x":{"datum":1.352,"type":"quantitative","axis":null},"y":{"datum":7.43,"type":"quantitative","axis":null}}},
{"data":{"values":[{}]},"mark":{"type":"point","shape":"square","filled":false,"color":"#000000","size":45,"strokeWidth":1.2,"opacity":1},"encoding":{"x":{"datum":1.352,"type":"quantitative","axis":null},"y":{"datum":5.82,"type":"quantitative","axis":null}}},
{"data":{"values":[{}]},"mark":{"type":"point","shape":"triangle-up","filled":false,"color":"#000000","size":45,"strokeWidth":1.2,"opacity":1},"encoding":{"x":{"datum":1.352,"type":"quantitative","axis":null},"y":{"datum":4.55,"type":"quantitative","axis":null}}},
{"data":{"values":[{}]},"mark":{"type":"text","text":["Υ(1S)","Υ(2S)","Υ(3S)"],"align":"left","baseline":"middle","fontSize":14,"lineHeight":20.8},"encoding":{"x":{"datum":1.506,"type":"quantitative","axis":null},"y":{"datum":7.43,"type":"quantitative","axis":null}}},
{"data":{"values":[{}]},"mark":{"type":"rule","color":"#333355","strokeWidth":1.5},"encoding":{"x":{"datum":1.25,"type":"quantitative","axis":null},"x2":{"datum":1.444},"y":{"datum":3.56,"type":"quantitative","axis":null}}},
{"data":{"values":[{}]},"mark":{"type":"text","text":"PYTHIA (normalized)","align":"left","baseline":"middle","fontSize":14},"encoding":{"x":{"datum":1.496,"type":"quantitative","axis":null},"y":{"datum":3.56,"type":"quantitative","axis":null}}},
{"data":{"values":[{}]},"mark":{"type":"rect","color":"#55c655","opacity":1},"encoding":{"x":{"datum":1.259,"type":"quantitative","axis":null},"x2":{"datum":1.45},"y":{"datum":2.56,"type":"quantitative","axis":null},"y2":{"datum":2.99}}},
{"data":{"values":[{}]},"mark":{"type":"text","text":"CASCADE","align":"left","baseline":"middle","fontSize":14},"encoding":{"x":{"datum":1.496,"type":"quantitative","axis":null},"y":{"datum":2.77,"type":"quantitative","axis":null}}},
{"data":{"values":[{}]},"mark":{"type":"rect","color":"#33e6f2","opacity":1},"encoding":{"x":{"datum":0.179,"type":"quantitative","axis":null},"x2":{"datum":0.508},"y":{"datum":0.165,"type":"quantitative","axis":null},"y2":{"datum":0.19}}},
{"data":{"values":[{}]},"mark":{"type":"text","text":"stat. unc.","align":"left","baseline":"middle","fontSize":13},"encoding":{"x":{"datum":0.58,"type":"quantitative","axis":null},"y":{"datum":0.177,"type":"quantitative","axis":null}}},
{"data":{"values":[{}]},"mark":{"type":"rule","color":"#000000","strokeWidth":1.2},"encoding":{"x":{"datum":0.179,"type":"quantitative","axis":null},"x2":{"datum":0.508},"y":{"datum":0.146,"type":"quantitative","axis":null}}},
{"data":{"values":[{}]},"mark":{"type":"tick","orient":"vertical","color":"#000000","size":8,"thickness":1.2,"opacity":1},"encoding":{"x":{"datum":0.344,"type":"quantitative","axis":null},"y":{"datum":0.146,"type":"quantitative","axis":null}}},
{"data":{"values":[{}]},"mark":{"type":"text","text":["total unc. except","luminosity (4%) and polarization"],"align":"left","baseline":"middle","fontSize":13,"lineHeight":16},"encoding":{"x":{"datum":0.58,"type":"quantitative","axis":null},"y":{"datum":0.148,"type":"quantitative","axis":null}}}
]
}
]
}
